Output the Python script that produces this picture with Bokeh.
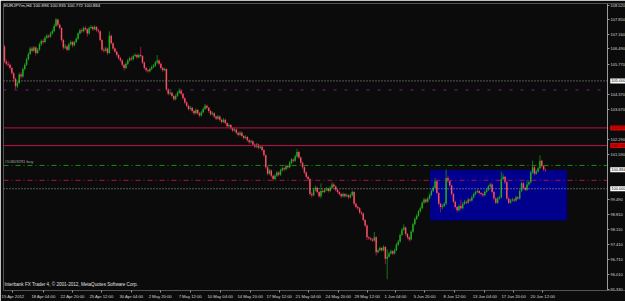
from bokeh.plotting import figure
from bokeh.models import (Range1d, FixedTicker, PrintfTickFormatter, Label, ColumnDataSource,
                          LinearAxis, BoxAnnotation)
from bokeh.embed import file_html
from bokeh.resources import INLINE

# ---------------- data ----------------
symbol_title = "EURJPYm,H4  100.896 100.935 100.772 100.884"
copyright_text = "Interbank FX Trader 4, \u00a9 2001-2012, MetaQuotes Software Corp."
order_text = "#10809291 buy"

first_open = 106.60
closes = [
105.90,105.80,105.75,105.60,105.35,105.10,104.75,104.90,105.30,105.20,
105.55,105.75,106.00,106.25,106.50,106.40,106.55,106.30,106.45,106.70,
106.85,106.80,107.00,107.10,107.05,107.20,107.30,107.55,107.85,107.60,
107.45,106.90,106.55,106.60,106.45,106.70,106.80,106.65,106.80,106.95,
107.20,107.35,107.30,107.45,107.40,107.20,107.45,107.50,107.40,107.50,
107.35,107.30,106.90,106.45,106.40,106.50,106.30,107.10,106.75,106.50,
106.35,106.20,106.05,105.95,105.75,105.60,105.80,105.95,106.05,106.00,
106.15,106.20,106.10,106.20,106.15,105.85,105.60,105.50,105.45,105.55,
105.65,105.70,105.85,105.95,105.80,105.60,105.50,105.55,104.60,104.40,
104.45,104.30,104.15,104.30,104.45,104.55,104.40,104.20,104.00,103.85,
103.70,103.75,103.60,103.50,103.65,103.50,103.40,103.55,103.70,103.85,
103.75,103.60,103.45,103.50,103.35,103.25,103.35,103.20,103.10,103.20,
103.05,102.90,102.95,102.80,102.70,102.75,102.60,102.50,102.60,102.45,
102.35,102.40,102.25,102.15,102.20,102.05,101.95,102.05,101.90,101.95,
101.80,101.55,101.00,100.70,100.85,100.60,100.45,100.60,100.75,100.65,
100.85,100.95,100.90,101.05,101.00,101.20,101.35,101.30,101.50,101.70,
101.45,101.20,101.00,100.75,100.55,100.45,99.75,99.70,99.95,100.05,
99.85,99.65,99.90,99.85,99.95,100.00,99.90,100.05,100.20,100.10,
99.95,99.85,99.75,99.65,99.75,99.65,99.70,99.60,99.70,99.85,
99.30,99.15,99.10,98.90,98.85,98.55,98.30,97.75,97.70,97.65,
97.60,97.75,97.05,97.15,97.25,97.15,97.30,96.75,96.85,97.00,
97.10,97.00,97.15,97.40,97.55,97.85,98.10,98.20,97.90,97.75,
97.65,98.00,98.35,98.60,98.75,98.95,99.10,99.35,99.50,99.40,
99.55,99.70,99.90,100.05,100.35,99.80,99.30,99.15,99.20,99.30,
100.50,100.35,100.15,99.75,99.40,99.15,99.00,99.20,99.10,99.30,
99.40,99.35,99.50,99.45,99.60,99.75,99.85,99.90,99.80,99.75,
99.70,99.85,99.95,100.10,100.20,99.85,99.55,99.35,99.55,99.60,
100.45,100.55,100.30,99.55,99.35,99.45,99.50,99.45,99.60,99.55,
99.90,100.25,100.05,99.95,100.20,100.30,100.75,101.00,100.70,100.80,
100.95,101.30,101.05,100.896,100.884]

highs = [
106.68,106.00,105.92,105.82,105.66,105.42,105.15,105.00,105.38,105.40,
105.62,105.82,106.08,106.32,106.58,106.60,106.62,106.60,106.52,106.78,
106.92,106.95,107.08,107.18,107.16,107.28,107.40,107.65,107.92,107.88,
107.66,107.50,106.95,106.70,106.66,106.78,106.88,106.85,106.86,107.02,
107.26,107.42,107.44,107.52,107.55,107.45,107.52,107.60,107.56,107.58,
107.55,107.42,107.35,106.95,106.55,106.58,106.55,107.30,107.15,106.80,
106.56,106.40,106.26,106.12,106.00,105.80,105.86,106.02,106.12,106.14,
106.22,106.28,106.26,106.27,106.58,106.20,105.90,105.66,105.56,105.62,
105.72,105.78,105.92,106.20,106.00,105.85,105.66,105.62,105.58,104.66,
104.55,104.50,104.36,104.38,104.52,104.66,104.60,104.45,104.25,104.06,
103.90,103.84,103.80,103.66,103.72,103.70,103.56,103.62,103.78,103.94,
103.90,103.80,103.65,103.58,103.55,103.40,103.42,103.40,103.25,103.28,
103.25,103.10,103.02,103.00,102.86,102.84,102.80,102.66,102.68,102.65,
102.50,102.48,102.45,102.30,102.28,102.25,102.10,102.12,102.10,102.02,
102.00,101.85,101.60,101.05,100.92,100.90,100.65,100.68,100.82,100.80,
100.92,101.02,101.00,101.12,101.10,101.28,101.42,101.40,101.58,101.85,
101.75,101.50,101.25,101.05,100.80,100.62,100.50,99.85,100.05,100.15,
100.10,99.90,100.25,99.98,100.02,100.08,100.05,100.12,100.30,100.28,
100.15,100.00,99.90,99.80,99.82,99.80,99.78,99.75,99.78,99.92,
99.90,99.35,99.22,99.15,98.96,98.90,98.60,98.35,97.80,97.76,
97.70,98.00,97.80,97.22,97.32,97.30,97.38,97.35,97.20,97.08,
97.18,97.15,97.22,97.48,97.62,97.92,98.18,98.35,98.25,97.95,
97.80,98.08,98.42,98.68,98.82,99.02,99.18,99.42,99.58,99.55,
99.62,99.78,99.98,100.12,100.50,100.40,99.85,99.35,99.28,99.38,
100.90,100.60,100.40,100.20,99.80,99.45,99.20,99.28,99.50,99.38,
99.48,99.45,99.58,99.55,99.68,99.82,99.92,99.98,99.95,99.85,
99.80,99.92,100.02,100.18,100.28,100.25,99.90,99.60,99.62,99.68,
100.80,100.70,100.60,100.35,99.60,99.52,99.58,99.55,99.68,99.65,
99.98,100.32,100.30,100.10,100.40,100.38,100.82,101.30,101.05,100.88,
101.02,101.55,101.35,101.10,100.935]

lows = [
105.82,105.70,105.66,105.52,105.28,104.98,104.60,104.66,104.85,105.10,
105.15,105.48,105.70,105.95,106.20,106.32,106.35,106.18,106.25,106.40,
106.62,106.72,106.75,106.95,106.98,107.00,107.15,107.25,107.50,107.52,
107.38,106.82,106.45,106.48,106.38,106.40,106.64,106.55,106.60,106.75,
106.90,107.15,107.22,107.25,107.33,107.05,107.15,107.40,107.32,107.35,
107.28,107.20,106.82,106.38,106.32,106.35,106.20,106.25,106.68,106.42,
106.28,106.12,105.98,105.88,105.66,105.48,105.55,105.74,105.90,105.93,
105.95,106.10,106.02,106.05,106.08,105.78,105.52,105.42,105.38,105.40,
105.50,105.60,105.65,105.80,105.72,105.52,105.42,105.45,104.52,104.32,
104.35,104.22,104.08,104.10,104.25,104.40,104.32,104.12,103.92,103.78,
103.62,103.64,103.52,103.42,103.45,103.42,103.32,103.35,103.50,103.65,
103.68,103.52,103.38,103.40,103.28,103.18,103.20,103.12,103.02,103.05,
102.98,102.82,102.85,102.72,102.62,102.65,102.52,102.42,102.45,102.38,
102.28,102.30,102.18,102.08,102.10,101.98,101.88,101.90,101.82,101.85,
101.72,101.48,100.92,100.62,100.65,100.52,100.35,100.40,100.55,100.58,
100.60,100.80,100.82,100.85,100.92,100.95,101.15,101.22,101.25,101.45,
101.38,101.12,100.92,100.68,100.48,100.38,99.68,99.60,99.65,99.88,
99.78,99.58,99.55,99.78,99.80,99.90,99.82,99.85,100.00,100.02,
99.88,99.78,99.68,99.55,99.60,99.58,99.60,99.52,99.55,99.65,
99.22,99.08,99.02,98.82,98.76,98.48,98.22,97.62,97.62,97.58,
97.52,97.55,96.90,97.00,97.10,97.08,97.10,96.50,95.80,96.80,
96.95,96.92,96.95,97.10,97.35,97.50,97.80,98.05,97.82,97.65,
97.55,97.60,97.95,98.30,98.55,98.70,98.90,99.05,99.30,99.32,
99.35,99.50,99.65,99.85,100.00,99.72,99.22,98.90,99.05,99.15,
99.25,100.28,100.08,99.68,99.32,99.08,98.90,98.95,99.02,99.05,
99.25,99.28,99.30,99.38,99.40,99.55,99.70,99.80,99.72,99.68,
99.62,99.65,99.80,99.90,100.05,99.78,99.48,99.28,99.30,99.50,
99.55,100.40,100.22,99.48,99.28,99.30,99.40,99.38,99.40,99.48,
99.50,99.85,99.98,99.88,99.90,100.15,100.25,100.70,100.62,100.65,
100.75,100.90,100.98,100.82,100.772]

date_labels = ["15 Apr 2012", "18 Apr 04:00", "22 Apr 20:00", "25 Apr 12:00", "30 Apr 04:00",
               "2 May 20:00", "7 May 12:00", "10 May 04:00", "14 May 20:00", "17 May 12:00",
               "21 May 04:00", "24 May 20:00", "29 May 12:00", "1 Jun 04:00", "5 Jun 20:00",
               "8 Jun 12:00", "13 Jun 04:00", "17 Jun 20:00", "20 Jun 12:00"]
# bar positions of the centres of the date labels
date_label_bars = [4.6, 21.2, 37.0, 52.7, 69.0, 84.6, 100.9, 117.2, 133.5, 149.3,
                   165.1, 181.4, 197.1, 212.5, 228.3, 244.6, 261.0, 276.7, 292.5]

price_ticks = [108.52, 107.85, 107.16, 106.49, 105.77, 104.37, 103.67, 102.29, 101.59,
               99.49, 98.81, 98.11, 97.41, 96.71, 96.01, 95.33]

round_levels = [105.00, 100.00]          # grey dotted lines, white labels
red_levels = [102.82, 102.00]            # crimson solid lines, red labels
purple_level = 104.58
order_level = 101.08                     # green dash-dot
stop_level = 100.39                      # crimson dash-dot
bid_price = 100.884
box_bars = [231.5, 305.4]
box_prices = [98.55, 100.85]

# ---------------- figure ----------------
BG = "#0b0b0b"
FONT = "Liberation Sans"
GREY = "#9a9a9a"
X0, X_EDGE, X1 = -0.54, 327.72, 337.5       # chart area ends at X_EDGE, price scale to its right
Y0, Y1 = 95.28, 108.59
p = figure(width=625, height=301, output_backend="svg", toolbar_location=None,
           x_range=Range1d(X0, X1), y_range=Range1d(Y0, Y1),
           y_axis_location=None, x_axis_location="below",
           min_border_left=3, min_border_top=3, min_border_right=0, min_border_bottom=9)
p.background_fill_color = BG
p.border_fill_color = BG
p.outline_line_color = None
p.grid.visible = False

ya = LinearAxis(fixed_location=X_EDGE)
ya.ticker = FixedTicker(ticks=price_ticks)
ya.formatter = PrintfTickFormatter(format="%.3f")
p.add_layout(ya, "right")
xa = p.xaxis[0]
xa.ticker = FixedTicker(ticks=date_label_bars)
xa.major_label_overrides = {b: t for b, t in zip(date_label_bars, date_labels)}
for ax in (xa, ya):
    ax.axis_line_color = GREY
    ax.major_tick_line_color = GREY
    ax.major_tick_out = 2
    ax.major_tick_in = 0
    ax.minor_tick_line_color = None
    ax.major_label_text_color = "#d8d8d8"
    ax.major_label_text_font = FONT
    ax.major_label_standoff = 1
xa.axis_line_color = None
ya.major_label_text_font_size = "4px"
xa.major_label_text_font_size = "4.2px"

# chart border
p.add_layout(BoxAnnotation(left=X0, right=X_EDGE, bottom=Y0, top=Y1, fill_alpha=0,
                           line_color=GREY, line_width=1, level="underlay"))

# box
p.quad(left=[box_bars[0]], right=[box_bars[1]], bottom=[box_prices[0]], top=[box_prices[1]],
       fill_color="#00008c", line_color="#00008c")

# candles
opens = [first_open] + closes[:-1]
idx = list(range(len(closes)))
up = [c >= o for o, c in zip(opens, closes)]
src = ColumnDataSource(dict(
    x=idx, h=highs, l=lows,
    top=[max(o, c) for o, c in zip(opens, closes)],
    bottom=[min(o, c) for o, c in zip(opens, closes)],
    body=["#22aa22" if u else "#f2545e" for u in up],
    wick=["#127812" if u else "#a0104a" for u in up],
))
p.segment(x0="x", y0="h", x1="x", y1="l", line_color="wick", line_width=1, source=src)
p.vbar(x="x", width=0.8, top="top", bottom="bottom", fill_color="body", line_color=None, source=src)

# horizontal levels, drawn across the chart area only
def hline(level, color, dash="solid"):
    p.segment(x0=[X0], x1=[X_EDGE], y0=[level], y1=[level], line_color=color, line_width=1,
              line_dash=dash)

for lv in round_levels:
    hline(lv, "#a8a8a8", "1 2")
for lv in red_levels:
    hline(lv, "#c0104a")
hline(purple_level, "#7a1a8c", "3 8")
hline(order_level, "#1e8a1e", "5 3 1 3")
hline(stop_level, "#b0104a", "5 3 1 3")

# price tags on the price scale
tag_x = X_EDGE + 1.5
tags = [(lv, "#ffffff", "#000000") for lv in round_levels] + \
       [(lv, "#e00000", "#400000") for lv in red_levels] + \
       [(bid_price, "#ffffff", "#000000")]
for lv, bg, fg in tags:
    p.add_layout(Label(x=tag_x, y=lv, text="%.3f" % lv, text_font=FONT, text_font_size="4px",
                       text_color=fg, background_fill_color=bg, padding=1,
                       text_baseline="middle", text_align="left"))

# texts
p.add_layout(Label(x=-0.3, y=108.48, text=symbol_title, text_font=FONT, text_font_size="4.4px",
                   text_color="#e0e0e0", text_baseline="middle", text_align="left"))
p.add_layout(Label(x=0.0, y=95.56, text=copyright_text, text_font=FONT, text_font_size="4.6px",
                   text_color="#e0e0e0", text_baseline="middle", text_align="left"))
p.add_layout(Label(x=0.0, y=101.245, text=order_text, text_font=FONT, text_font_size="4.2px",
                   text_color="#a0a0a0", text_baseline="middle", text_align="left"))

open("out.html", "w").write(file_html(p, INLINE))
